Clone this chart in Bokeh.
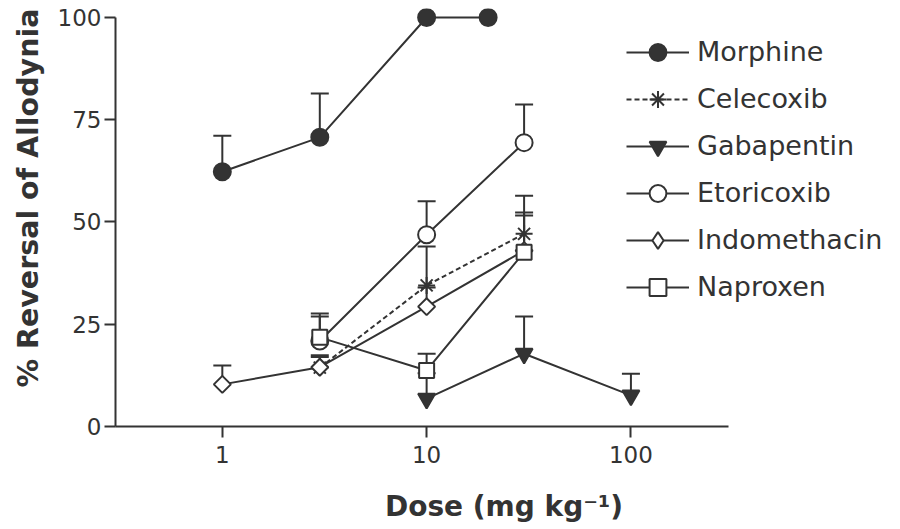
import numpy as np
from bokeh.plotting import figure
from bokeh.models import (Range1d, FixedTicker, NumeralTickFormatter, Whisker,
                          TeeHead, ColumnDataSource, Legend, LegendItem, Title)
from bokeh.embed import file_html
from bokeh.resources import INLINE

# ---- data ----
morphine_x = [1, 3, 10, 20]
morphine_y = [62.3, 70.7, 100, 100]
morphine_up = [71.1, 81.4, 100, 100]

celecoxib_x = [3, 10, 30]
celecoxib_y = [14.4, 34.5, 47.1]
celecoxib_up = [17.4, 44.0, 56.4]

gabapentin_x = [10, 30, 100]
gabapentin_y = [6.8, 17.8, 7.6]
gabapentin_up = [13.0, 26.9, 12.9]

etoricoxib_x = [3, 10, 30]
etoricoxib_y = [20.9, 46.9, 69.4]
etoricoxib_up = [26.9, 55.1, 78.7]

indomethacin_x = [1, 3, 10, 30]
indomethacin_y = [10.3, 14.5, 29.3, 43.0]
indomethacin_up = [14.9, 17.0, 34.0, 51.6]

naproxen_x = [3, 10, 30]
naproxen_y = [21.8, 13.7, 42.6]
naproxen_up = [27.6, 17.8, 52.3]

x_ticks = [1, 10, 100]
y_ticks = [0, 25, 50, 75, 100]

INK = "#333333"
FONT = "DejaVu Sans"

p = figure(frame_width=777, frame_height=418,
           x_axis_type="log",
           x_range=Range1d(0.3, 0.3 * 10 ** (777 / 204.3)),
           y_range=Range1d(0, 102.2),
           min_border_left=110, min_border_right=3, min_border_top=8,
           min_border_bottom=80,
           output_backend="svg", toolbar_location=None)
p.outline_line_color = None
p.xgrid.grid_line_color = None
p.ygrid.grid_line_color = None
p.background_fill_color = "white"

for ax in (p.xaxis[0], p.yaxis[0]):
    ax.axis_line_color = INK
    ax.axis_line_width = 2
    ax.major_tick_line_color = INK
    ax.major_tick_line_width = 2
    ax.major_tick_out = 11
    ax.major_tick_in = 0
    ax.minor_tick_line_color = None
    ax.major_label_text_font = FONT
    ax.major_label_text_font_size = "23px"
    ax.major_label_text_color = INK
    ax.axis_label_text_font = FONT
    ax.axis_label_text_font_style = "bold"
    ax.axis_label_text_color = INK
    ax.axis_label_text_font_size = "28px"

p.xaxis.ticker = FixedTicker(ticks=x_ticks)
p.xaxis.formatter = NumeralTickFormatter(format="0")
p.xaxis.bounds = (0.3, 300)
p.xaxis.major_label_standoff = 8
p.xaxis.axis_label = "Dose (mg kg\u207b\u00b9)"
p.xaxis.axis_label_standoff = 24

p.yaxis.ticker = FixedTicker(ticks=y_ticks)
p.yaxis.bounds = (0, 100)
p.yaxis.major_label_standoff = 3
p.add_layout(Title(text="% Reversal of Allodynia", align="left", offset=39,
                   text_font=FONT, text_font_style="bold", text_font_size="28.5px",
                   text_color=INK, standoff=19), "left")

series = [
    ("Morphine", morphine_x, morphine_y, morphine_up, "circle", 17, INK, "solid"),
    ("Celecoxib", celecoxib_x, celecoxib_y, celecoxib_up, "asterisk", 17, INK, "5 3"),
    ("Gabapentin", gabapentin_x, gabapentin_y, gabapentin_up, "inverted_triangle", 17, INK, "solid"),
    ("Etoricoxib", etoricoxib_x, etoricoxib_y, etoricoxib_up, "circle", 17, "white", "solid"),
    ("Indomethacin", indomethacin_x, indomethacin_y, indomethacin_up, "square", 12, "white", "solid"),
    ("Naproxen", naproxen_x, naproxen_y, naproxen_up, "square", 15, "white", "solid"),
]

items = []
for name, xs, ys, ups, marker, size, fill, dash in series:
    src = ColumnDataSource(dict(x=xs, y=ys))
    keep = [i for i in range(len(xs)) if ups[i] > ys[i]]
    wsrc = ColumnDataSource(dict(x=[xs[i] for i in keep], y=[ys[i] for i in keep],
                                 up=[ups[i] for i in keep]))
    w = Whisker(source=wsrc, base="x", upper="up", lower="y", dimension="height",
                line_color=INK, line_width=2,
                upper_head=TeeHead(size=18, line_color=INK, line_width=2),
                lower_head=None, level="underlay")
    p.add_layout(w)
    r1 = p.line("x", "y", source=src, line_color=INK, line_width=2, line_dash=dash)
    if name == "Indomethacin":
        # narrow diamond hidden under the rotated square; it supplies the legend sample
        r_leg = p.scatter("x", "y", source=src, marker="diamond", size=14,
                          fill_color=fill, line_color=INK, line_width=2)
        p.scatter("x", "y", source=src, marker="square", size=size, angle=np.pi / 4,
                  fill_color=fill, line_color=INK, line_width=2)
        r2 = r_leg
    else:
        r2 = p.scatter("x", "y", source=src, marker=marker, size=size,
                       fill_color=fill, line_color=INK, line_width=2)
    items.append(LegendItem(label=name, renderers=[r1, r2]))

legend = Legend(items=items, location=(511, 116),
                glyph_width=63, glyph_height=42, label_height=47,
                spacing=0, padding=0, margin=0, label_standoff=8,
                border_line_alpha=0, background_fill_alpha=0,
                label_text_font=FONT, label_text_font_size="27px",
                label_text_color=INK, label_text_baseline="middle")
p.add_layout(legend, "center")

open("out.html", "w").write(file_html(p, INLINE))
